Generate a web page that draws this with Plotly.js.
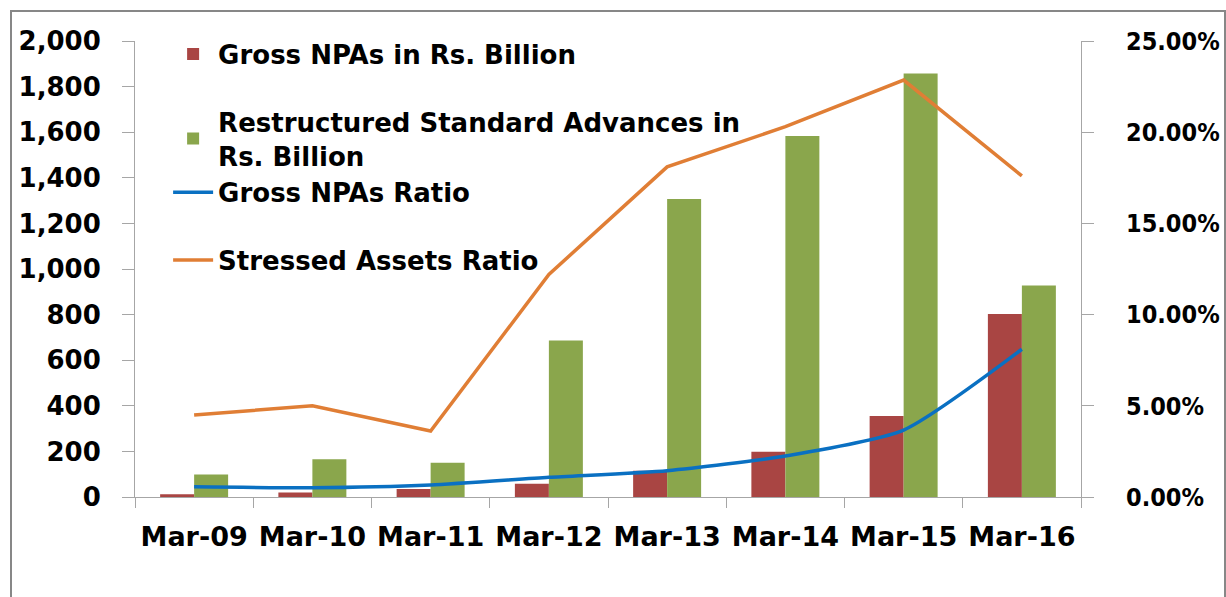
<!DOCTYPE html>
<html>
<head>
<meta charset="utf-8">
<script src="https://cdn.plot.ly/plotly-3.0.1.min.js"></script>
<style>
html,body{margin:0;padding:0;background:#fff;}
#chart{width:1226px;height:597px;}
#frame{position:absolute;left:10px;top:10px;width:1212px;height:600px;border:2px solid #878787;pointer-events:none;}
</style>
</head>
<body>
<div id="chart"></div>
<div id="frame"></div>
<script>
const categories = ["Mar-09","Mar-10","Mar-11","Mar-12","Mar-13","Mar-14","Mar-15","Mar-16"];
const grossNPAs = [12, 20, 35, 58, 115, 199, 355, 803];
const restructured = [99, 166, 150, 686, 1307, 1583, 1858, 928];
const grossNPAsRatio = [0.0056, 0.0051, 0.0066, 0.0108, 0.0144, 0.0225, 0.0367, 0.081];
const stressedRatio = [0.045, 0.050, 0.0362, 0.122, 0.181, 0.203, 0.2286, 0.176];

const FONT = {family: "DejaVu Sans", size: 26, color: "#000", weight: "bold"};
const XFONT = {family: "DejaVu Sans", size: 27, color: "#000", weight: "bold"};
const RFONT = {family: "DejaVu Sans Condensed, DejaVu Sans", size: 25, color: "#000", weight: "bold"};

const traces = [
  {type: "bar", name: "Gross NPAs in Rs. Billion", x: categories, y: grossNPAs,
   marker: {color: "#A94543"}, legendgroup: "g1"},
  {type: "bar", name: "Restructured Standard Advances in<br>Rs. Billion", x: categories, y: restructured,
   marker: {color: "#8AA64C"}, legendgroup: "g2"},
  {type: "scatter", mode: "lines", name: "Gross NPAs Ratio", x: categories, y: grossNPAsRatio,
   yaxis: "y2", line: {color: "#0A70C2", width: 3.5, shape: "spline", smoothing: 0.6}, legendgroup: "g2"},
  {type: "scatter", mode: "lines", name: "Stressed Assets Ratio", x: categories, y: stressedRatio,
   yaxis: "y2", line: {color: "#E07E35", width: 3.5}, legendgroup: "g3"}
];

const layout = {
  width: 1226, height: 597,
  margin: {l: 135, r: 145, t: 41, b: 100},
  paper_bgcolor: "#fff", plot_bgcolor: "#fff",
  font: FONT,
  barmode: "group", bargap: 0.425, bargroupgap: 0,
  showlegend: true,
  legend: {x: 0.035, y: 1.023, xanchor: "left", yanchor: "top", bgcolor: "rgba(0,0,0,0)",
           font: FONT, traceorder: "grouped", tracegroupgap: 31, itemwidth: 40},
  xaxis: {type: "category", showline: true, linecolor: "#A6A6A6", linewidth: 1,
          ticks: "outside", ticklen: 10, tickcolor: "#A6A6A6", tickson: "boundaries",
          showgrid: false, zeroline: false, tickfont: XFONT, ticklabelstandoff: 16},
  yaxis: {range: [0, 2000], dtick: 200, tickformat: ",d", showline: true, linecolor: "#A6A6A6",
          ticks: "outside", ticklen: 12, tickcolor: "#A6A6A6", showgrid: false, zeroline: false,
          tickfont: FONT, ticklabelstandoff: 16},
  yaxis2: {overlaying: "y", side: "right", range: [0, 0.25], dtick: 0.05, tickformat: ".2%",
           showline: true, linecolor: "#A6A6A6", ticks: "outside", ticklen: 12, tickcolor: "#A6A6A6",
           showgrid: false, zeroline: false, tickfont: RFONT, ticklabelstandoff: 27}
};

Plotly.newPlot("chart", traces, layout, {displayModeBar: false, staticPlot: true});
</script>
</body>
</html>
